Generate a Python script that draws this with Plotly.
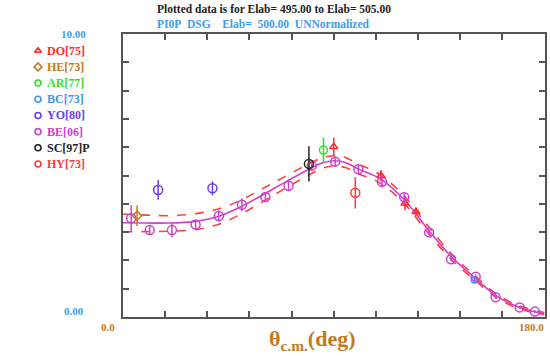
import plotly.graph_objects as go

W, H = 550, 356

# ---------------- data ----------------
curve_theta = [0, 10, 20, 30, 40, 50, 60, 70, 80, 85, 90, 95, 100, 110, 120, 130, 140, 150, 160, 170, 180]
curve_mid = [3.33, 3.32, 3.32, 3.37, 3.53, 3.88, 4.33, 4.80, 5.25, 5.44, 5.52, 5.46, 5.25, 4.88, 4.15, 3.12, 2.15, 1.40, 0.72, 0.32, 0.12]
curve_up = [3.64, 3.60, 3.58, 3.64, 3.80, 4.12, 4.55, 5.00, 5.44, 5.62, 5.70, 5.64, 5.42, 5.02, 4.28, 3.24, 2.25, 1.48, 0.78, 0.37, 0.16]
curve_lo = [3.01, 3.02, 3.03, 3.08, 3.25, 3.62, 4.09, 4.58, 5.05, 5.25, 5.34, 5.28, 5.08, 4.72, 4.02, 3.00, 2.05, 1.32, 0.66, 0.27, 0.08]

do_theta = [90.0, 110.2, 120.4, 125.1]
do_val = [6.02, 4.99, 4.02, 3.72]
do_err = [0.31, 0.20, 0.25, 0.15]

he_theta = [6.0]
he_val = [3.58]
he_err = [0.37]

ar_theta = [85.6]
ar_val = [5.90]
ar_err = [0.44]

bc_theta = [150.0]
bc_val = [1.31]
bc_err = [0.08]

yo_theta = [15.0, 38.2]
yo_val = [4.49, 4.55]
yo_err = [0.35, 0.25]

be_theta = [3.5, 11.4, 20.9, 31.0, 40.9, 50.8, 60.8, 70.7, 80.6, 90.6, 100.5, 110.6, 120.1, 130.7, 140.1, 150.6, 159.1, 169.4, 175.9]
be_val = [3.49, 3.07, 3.07, 3.27, 3.57, 3.97, 4.24, 4.64, 5.35, 5.49, 5.22, 4.78, 4.23, 2.99, 2.04, 1.42, 0.70, 0.34, 0.19]
be_err = [0.46, 0.16, 0.25, 0.15, 0.20, 0.23, 0.16, 0.20, 0.20, 0.18, 0.18, 0.20, 0.15, 0.10, 0.08, 0.08, 0.06, 0.05, 0.05]

sc_theta = [79.4]
sc_val = [5.41]
sc_err = [0.62]

hy_theta = [99.2]
hy_val = [4.39]
hy_err = [0.56]

legend_labels = ["DO[75]", "HE[73]", "AR[77]", "BC[73]", "YO[80]", "BE[06]", "SC[97]P", "HY[73]"]
x_tick_labels = ["0.0", "180.0"]
y_tick_labels = ["0.00", "10.00"]
title_line1 = "Plotted data is for Elab= 495.00 to Elab= 505.00"
title_line2 = "PI0P  DSG    Elab=  500.00  UNNormalized"

# ---------------- styles ----------------
C_DO = "#ff2a2a"
C_HE = "#c47a1c"
C_AR = "#2ee02e"
C_BC = "#3a96ec"
C_YO = "#6a3cf0"
C_BE = "#d040d0"
C_SC = "#222222"
C_HY = "#ff3a3a"
C_AX = "#c47a1c"
C_BLUE = "#3d9cf0"
FONT = "Liberation Serif"

# plot area in pixels
PL, PR, PT, PB = 123, 544.5, 34, 317

fig = go.Figure()

# model curves
fig.add_trace(go.Scatter(x=curve_theta, y=curve_up, mode="lines", line=dict(color="#ff4040", width=1.6, dash="dash", shape="spline"), hoverinfo="skip"))
fig.add_trace(go.Scatter(x=curve_theta, y=curve_lo, mode="lines", line=dict(color="#ff4040", width=1.6, dash="dash", shape="spline"), hoverinfo="skip"))
fig.add_trace(go.Scatter(x=curve_theta, y=curve_mid, mode="lines", line=dict(color=C_BE, width=1.6, shape="spline"), hoverinfo="skip"))

series = [
    (do_theta, do_val, do_err, C_DO, "triangle-up-open", 7),
    (he_theta, he_val, he_err, C_HE, "diamond-open", 7),
    (ar_theta, ar_val, ar_err, C_AR, "circle-open", 8),
    (bc_theta, bc_val, bc_err, C_BC, "circle-open", 6),
    (yo_theta, yo_val, yo_err, C_YO, "circle-open", 9),
    (be_theta, be_val, be_err, C_BE, "circle-open", 9),
    (sc_theta, sc_val, sc_err, C_SC, "circle-open", 9),
    (hy_theta, hy_val, hy_err, C_HY, "circle-open", 9),
]
for th, v, e, col, sym, sz in series:
    fig.add_trace(go.Scatter(
        x=th, y=v, mode="markers",
        marker=dict(symbol=sym, size=sz, color=col, line=dict(color=col, width=1.5)),
        error_y=dict(type="data", array=e, visible=True, width=0, thickness=1.5, color=col),
    ))

# legend (drawn on an auxiliary hidden axis pair)
leg_x = [38] * len(legend_labels)
leg_y = list(range(len(legend_labels)))
leg_syms = [s[4] for s in series]
leg_cols = [s[3] for s in series]
fig.add_trace(go.Scatter(
    x=leg_x, y=leg_y, mode="markers", xaxis="x2", yaxis="y2",
    marker=dict(symbol=leg_syms, size=6, color=leg_cols, line=dict(color=leg_cols, width=1.6)),
    hoverinfo="skip",
))

annotations = []
for i, lab in enumerate(legend_labels):
    annotations.append(dict(x=45, y=i, xref="x2", yref="y2", text="<b>%s</b>" % lab, showarrow=False,
                            xanchor="left", yanchor="middle", font=dict(family=FONT, size=12, color=leg_cols[i])))

def px_x(p):
    return p / W

def px_y(p):
    return 1 - p / H

annotations += [
    dict(x=px_x(155), y=px_y(9), xref="paper", yref="paper", text="<b>%s</b>" % title_line1, showarrow=False,
         xanchor="left", yanchor="middle", font=dict(family=FONT, size=11.5, color="#222222")),
    dict(x=px_x(155), y=px_y(23.5), xref="paper", yref="paper", text="<b>%s</b>" % title_line2.replace(" ", "&nbsp;"), showarrow=False,
         xanchor="left", yanchor="middle", font=dict(family=FONT, size=11.5, color=C_BLUE)),
    dict(x=px_x(88), y=px_y(34), xref="paper", yref="paper", text="<b>%s</b>" % y_tick_labels[1], showarrow=False,
         xanchor="right", yanchor="middle", font=dict(family=FONT, size=11, color=C_BLUE)),
    dict(x=px_x(86), y=px_y(311), xref="paper", yref="paper", text="<b>%s</b>" % y_tick_labels[0], showarrow=False,
         xanchor="right", yanchor="middle", font=dict(family=FONT, size=11, color=C_BLUE)),
    dict(x=px_x(108), y=px_y(327), xref="paper", yref="paper", text="<b>%s</b>" % x_tick_labels[0], showarrow=False,
         xanchor="center", yanchor="middle", font=dict(family=FONT, size=11, color=C_AX)),
    dict(x=px_x(546), y=px_y(327), xref="paper", yref="paper", text="<b>%s</b>" % x_tick_labels[1], showarrow=False,
         xanchor="right", yanchor="middle", font=dict(family=FONT, size=11, color=C_AX)),
    dict(x=px_x(312), y=px_y(340), xref="paper", yref="paper", text="<b>θ<sub>c.m.</sub>(deg)</b>", showarrow=False,
         xanchor="center", yanchor="middle", font=dict(family=FONT, size=22, color=C_AX)),
]

axis_common = dict(showline=True, linecolor="#555555", linewidth=1.5, mirror="ticks", ticks="inside",
                   ticklen=6, tickwidth=1.5, tickcolor="#555555", showticklabels=False,
                   showgrid=False, zeroline=False, fixedrange=True)

fig.update_layout(
    width=W, height=H,
    margin=dict(l=0, r=0, t=0, b=0, pad=0),
    paper_bgcolor="white", plot_bgcolor="white",
    showlegend=False,
    xaxis=dict(domain=[PL / W, PR / W], range=[0, 180], dtick=18, tick0=0, **axis_common),
    yaxis=dict(domain=[1 - PB / H, 1 - PT / H], range=[0, 10], dtick=1, tick0=0, **axis_common),
    xaxis2=dict(domain=[0, 0.2], range=[0, 110], visible=False, fixedrange=True),
    yaxis2=dict(domain=[1 - 172.1 / H, 1 - 42.6 / H], range=[7.5, -0.5], visible=False, fixedrange=True, anchor="x2"),
    annotations=annotations,
)

fig.write_html("out.html", config={"displayModeBar": False},
               post_script="document.body.style.margin='0';document.body.style.padding='0';document.body.style.overflow='hidden';")
